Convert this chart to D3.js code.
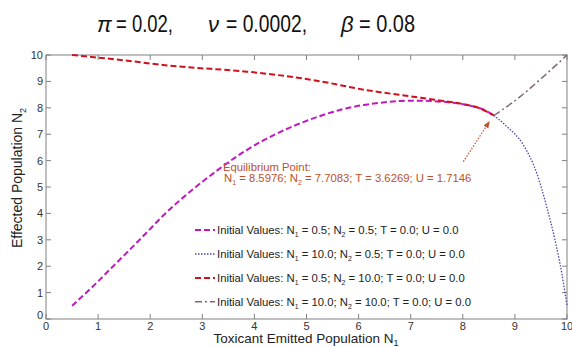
<!DOCTYPE html>
<html>
<head>
<meta charset="utf-8">
<script src="https://cdn.jsdelivr.net/npm/d3@7"></script>
<style>
  body { margin: 0; background: #fff; }
  text { font-family: "Liberation Sans", Arial, sans-serif; }
</style>
</head>
<body>
<svg id="chart" width="572" height="347"></svg>
<script>
// tick values
const xTicks = [0, 1, 2, 3, 4, 5, 6, 7, 8, 9, 10];
const yTicks = [0, 1, 2, 3, 4, 5, 6, 7, 8, 9, 10];

// N1 = 0.5, N2 = 0.5
const purpleX = [0.5, 0.96, 1.28, 1.6, 1.92, 2.24, 2.56, 2.88, 3.28, 3.85, 4.49, 5.13, 5.77, 6.41, 7.05, 7.6, 8.14, 8.4, 8.5976];
const purpleY = [0.5, 1.35, 1.98, 2.61, 3.25, 3.9, 4.48, 5.01, 5.62, 6.4, 7.08, 7.6, 7.98, 8.19, 8.27, 8.23, 8.08, 7.93, 7.7083];
// N1 = 10, N2 = 0.5 (listed from the equilibrium out to the start)
const blueX = [8.5976, 8.84, 9.16, 9.42, 9.61, 9.77, 9.9, 10];
const blueY = [7.7083, 7.3, 6.6, 5.52, 4.25, 2.99, 1.73, 0.5];
// N1 = 0.5, N2 = 10
const redX = [0.5, 1, 1.5, 2.25, 2.57, 3.85, 5.13, 6.15, 7.05, 7.55, 8.0, 8.3, 8.5976];
const redY = [10, 9.9, 9.8, 9.62, 9.56, 9.37, 9.05, 8.67, 8.42, 8.28, 8.14, 8.0, 7.7083];
// N1 = 10, N2 = 10 (from the equilibrium out to the start)
const grayX = [8.5976, 9.1, 9.5, 10];
const grayY = [7.7083, 8.42, 9.1, 10];

const legendLabels = [
  ["0.5", "0.5"],
  ["10.0", "0.5"],
  ["0.5", "10.0"],
  ["10.0", "10.0"]
];

const svg = d3.select("#chart");
const margin = { top: 55, right: 5, bottom: 28, left: 46 };
const W = 572, H = 347;

const x = d3.scaleLinear().domain([0, 10]).range([margin.left, W - margin.right]);
const y = d3.scaleLinear().domain([0, 10]).range([H - margin.bottom, margin.top]);

const axisCol = "#808080";

// title
const title = svg.append("g").attr("font-size", 24).attr("fill", "#111");
const titleParts = [
  { sym: "π", rest: "= 0.02,", x0: 97, x1: 116, len: 57 },
  { sym: "ν", rest: "= 0.0002,", x0: 208, x1: 226, len: 81 },
  { sym: "β", rest: "= 0.08", x0: 341, x1: 359, len: 56 }
];
titleParts.forEach(p => {
  title.append("text").attr("x", p.x0).attr("y", 32)
    .attr("font-family", "DejaVu Serif").attr("font-style", "italic")
    .attr("font-size", 22).text(p.sym);
  title.append("text").attr("x", p.x1).attr("y", 32)
    .attr("textLength", p.len).attr("lengthAdjust", "spacingAndGlyphs")
    .text(p.rest);
});

// box
svg.append("rect")
  .attr("x", x(0)).attr("y", y(10))
  .attr("width", x(10) - x(0)).attr("height", y(0) - y(10))
  .attr("fill", "none").attr("stroke", axisCol).attr("stroke-width", 1);

// inward ticks on all sides
const tk = 5;
const ticks = svg.append("g").attr("stroke", axisCol).attr("stroke-width", 1);
xTicks.forEach(v => {
  ticks.append("line").attr("x1", x(v)).attr("x2", x(v)).attr("y1", y(0)).attr("y2", y(0) - tk);
  ticks.append("line").attr("x1", x(v)).attr("x2", x(v)).attr("y1", y(10)).attr("y2", y(10) + tk);
});
yTicks.forEach(v => {
  ticks.append("line").attr("x1", x(0)).attr("x2", x(0) + tk).attr("y1", y(v)).attr("y2", y(v));
  ticks.append("line").attr("x1", x(10)).attr("x2", x(10) - tk).attr("y1", y(v)).attr("y2", y(v));
});

// tick labels
svg.append("g").selectAll("text").data(xTicks).join("text")
  .attr("x", d => x(d)).attr("y", y(0) + 11)
  .attr("text-anchor", "middle").attr("font-size", 11).attr("fill", "#333")
  .text(d => d);
svg.append("g").selectAll("text").data(yTicks).join("text")
  .attr("x", x(0) - 3).attr("y", d => y(d) + 4 - (d === 0 ? 4 : 0))
  .attr("text-anchor", "end").attr("font-size", 11).attr("fill", "#333")
  .text(d => d);

// axis titles
const xl = svg.append("text").attr("x", 306).attr("y", 343)
  .attr("text-anchor", "middle").attr("font-size", 13.5).attr("fill", "#222");
xl.append("tspan").text("Toxicant Emitted Population N");
xl.append("tspan").attr("font-size", 9).attr("dy", 3).text("1");

const yl = svg.append("text")
  .attr("transform", "translate(22,178) rotate(-90)")
  .attr("text-anchor", "middle").attr("font-size", 14).attr("fill", "#222");
yl.append("tspan").text("Effected Population N");
yl.append("tspan").attr("font-size", 9).attr("dy", 4).text("2");

// curves
const styles = [
  { xs: purpleX, ys: purpleY, color: "#c018c0", w: 2, dash: "6,3" },
  { xs: blueX, ys: blueY, color: "#4a4aa8", w: 1.3, dash: "1.5,1.5" },
  { xs: redX, ys: redY, color: "#d0101c", w: 2, dash: "6,3" },
  { xs: grayX, ys: grayY, color: "#806870", w: 1.5, dash: "7,3,2,3" }
];

const line = d3.line()
  .x(d => x(d[0])).y(d => y(d[1]))
  .curve(d3.curveMonotoneX);

const plot = svg.append("g");
styles.forEach(s => {
  plot.append("path")
    .datum(s.xs.map((v, i) => [v, s.ys[i]]))
    .attr("d", line)
    .attr("fill", "none")
    .attr("stroke", s.color)
    .attr("stroke-width", s.w)
    .attr("stroke-dasharray", s.dash);
});

// legend
const leg = svg.append("g");
const rowY = [230, 254, 278, 301.7];
styles.forEach((s, i) => {
  leg.append("line")
    .attr("x1", 195).attr("x2", 215).attr("y1", rowY[i]).attr("y2", rowY[i])
    .attr("stroke", s.color).attr("stroke-width", s.w).attr("stroke-dasharray", s.dash);
  const t = leg.append("text").attr("x", 217).attr("y", rowY[i] + 4)
    .attr("font-size", 11.3).attr("fill", "#222");
  t.append("tspan").text("Initial Values: N");
  t.append("tspan").attr("font-size", 7).attr("dy", 3).text("1");
  t.append("tspan").attr("dy", -3).text(" = " + legendLabels[i][0] + "; N");
  t.append("tspan").attr("font-size", 7).attr("dy", 3).text("2");
  t.append("tspan").attr("dy", -3).text(" = " + legendLabels[i][1] + "; T = 0.0; U = 0.0");
});

// equilibrium annotation
const eqCol = "#c0502a";
const eqX = 8.5976, eqY = 7.7083;
const eqT = 3.6269, eqU = 1.7146;
svg.append("defs").append("marker")
  .attr("id", "ah").attr("viewBox", "0 0 10 10")
  .attr("refX", 9).attr("refY", 5)
  .attr("markerWidth", 6).attr("markerHeight", 6)
  .attr("orient", "auto")
  .append("path").attr("d", "M0,1 L10,5 L0,9 Z").attr("fill", eqCol);
svg.append("line")
  .attr("x1", x(8.01)).attr("y1", y(5.96))
  .attr("x2", x(8.51)).attr("y2", y(7.48))
  .attr("stroke", eqCol).attr("stroke-width", 1.2)
  .attr("stroke-dasharray", "1.5,1.5")
  .attr("marker-end", "url(#ah)");

svg.append("text").attr("x", 223).attr("y", 171)
  .attr("font-size", 11.3).attr("fill", eqCol).text("Equilibrium Point:");
const e2 = svg.append("text").attr("x", 224).attr("y", 182)
  .attr("font-size", 11.3).attr("fill", eqCol);
e2.append("tspan").text("N");
e2.append("tspan").attr("font-size", 7).attr("dy", 3).text("1");
e2.append("tspan").attr("dy", -3).text(" = " + eqX + "; N");
e2.append("tspan").attr("font-size", 7).attr("dy", 3).text("2");
e2.append("tspan").attr("dy", -3).text(" = " + eqY + "; T = " + eqT + "; U = " + eqU);
</script>
</body>
</html>
